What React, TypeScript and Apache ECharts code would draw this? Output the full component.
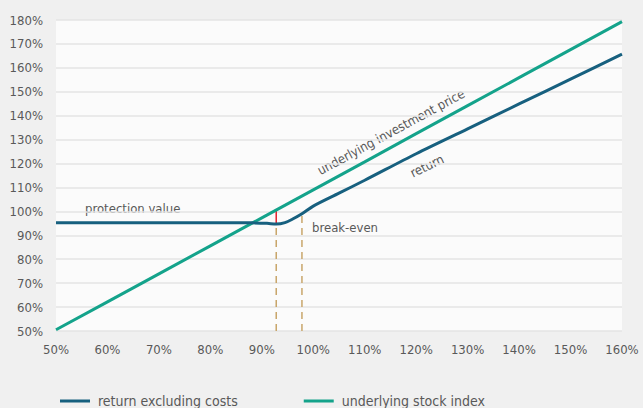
import React, { useEffect, useRef } from "react";
import * as echarts from "echarts";

// Horizontal axis: performance of the underlying, in %
const xTicks = [50, 60, 70, 80, 90, 100, 110, 120, 130, 140, 150, 160];

// Return excluding costs (protected product)
const returnX = [50, 60, 70, 80, 88, 91, 92.8, 94.5, 96, 97.8, 100, 105, 110, 120, 130, 140, 150, 160];
const returnY = [95.2, 95.3, 95.3, 95.3, 95.2, 95.0, 94.7, 95.3, 96.8, 99.0, 102.2, 107.6, 113.0, 124.1, 134.5, 144.9, 155.3, 165.7];

// Underlying stock index
const indexX = [50, 60, 70, 80, 90, 100, 110, 120, 130, 140, 150, 160];
const indexY = [50.5, 62.2, 73.9, 85.6, 97.3, 109.0, 120.7, 132.5, 144.2, 155.9, 167.6, 179.3];

// Markers: protection cost gap and break-even
const gapX = 92.8;
const gapFrom = 94.7;
const gapTo = 100.6;
const breakEvenX = 97.8;
const breakEvenY = 99.0;
const axisFloor = 50;

const FONT = "'DejaVu Sans Condensed', 'Liberation Sans Narrow', 'Arial Narrow', sans-serif";
const TEXT = "#595959";
const BLUE = "#17607f";
const GREEN = "#14a38b";
const TAN = "#c9a66b";
const RED = "#e3202c";

const zip = (xs: number[], ys: number[]) => xs.map((x, i) => [x, ys[i]]);

export default function App() {
  const ref = useRef<HTMLDivElement>(null);

  useEffect(() => {
    if (!ref.current) return;
    const chart = echarts.init(ref.current, undefined, { renderer: "svg" });
    const pct = (v: number) => `${v}%`;
    chart.setOption({
      animation: false,
      backgroundColor: "#f0f0f0",
      grid: {
        left: 56,
        right: 21,
        top: 20,
        bottom: 77,
        show: true,
        backgroundColor: "#fbfbfb",
        borderWidth: 0,
      },
      xAxis: {
        type: "value",
        min: xTicks[0],
        max: xTicks[xTicks.length - 1],
        interval: 10,
        axisLine: { show: false },
        axisTick: { show: false },
        splitLine: { show: false },
        axisLabel: { formatter: pct, color: TEXT, fontFamily: FONT, fontSize: 13, margin: 12 },
      },
      yAxis: {
        type: "value",
        min: 50,
        max: 180,
        interval: 10,
        axisLine: { show: false },
        axisTick: { show: false },
        splitLine: { lineStyle: { color: "#e4e4e4", width: 1.5 } },
        axisLabel: { formatter: pct, color: TEXT, fontFamily: FONT, fontSize: 13, margin: 13 },
      },
      legend: {
        data: ["return excluding costs", "underlying stock index"],
        left: 55,
        top: 389,
        icon: "rect",
        itemWidth: 30,
        itemHeight: 3,
        itemGap: 66,
        textStyle: { color: TEXT, fontFamily: FONT, fontSize: 14, padding: [0, 0, 0, 3] },
      },
      series: [
        {
          name: "break-even marker",
          type: "line",
          data: [[breakEvenX, axisFloor], [breakEvenX, breakEvenY]],
          showSymbol: false,
          lineStyle: { color: TAN, width: 1.5, type: [7, 5] },
          z: 1,
        },
        {
          name: "protection marker",
          type: "line",
          data: [[gapX, axisFloor], [gapX, gapFrom]],
          showSymbol: false,
          lineStyle: { color: TAN, width: 1.5, type: [7, 5] },
          z: 1,
        },
        {
          name: "protection gap",
          type: "line",
          data: [[gapX, gapFrom], [gapX, gapTo]],
          showSymbol: false,
          lineStyle: { color: RED, width: 1.5 },
          z: 1,
        },
        {
          name: "underlying stock index",
          type: "line",
          data: zip(indexX, indexY),
          showSymbol: false,
          color: GREEN,
          lineStyle: { color: GREEN, width: 3 },
          z: 3,
        },
        {
          name: "return excluding costs",
          type: "line",
          data: zip(returnX, returnY),
          smooth: 0.3,
          showSymbol: false,
          color: BLUE,
          lineStyle: { color: BLUE, width: 3 },
          z: 4,
        },
      ],
      graphic: [
        {
          type: "text",
          x: 85,
          y: 208,
          style: { text: "protection value", fill: TEXT, font: `13px ${FONT}`, textVerticalAlign: "middle" },
        },
        {
          type: "text",
          x: 312,
          y: 227,
          style: { text: "break-even", fill: TEXT, font: `13px ${FONT}`, textVerticalAlign: "middle" },
        },
        {
          type: "text",
          x: 391,
          y: 132,
          rotation: (28.5 * Math.PI) / 180,
          style: {
            text: "underlying investment price",
            fill: TEXT,
            font: `13px ${FONT}`,
            textAlign: "center",
            textVerticalAlign: "middle",
          },
        },
        {
          type: "text",
          x: 427,
          y: 166,
          rotation: (25.8 * Math.PI) / 180,
          style: {
            text: "return",
            fill: TEXT,
            font: `13px ${FONT}`,
            textAlign: "center",
            textVerticalAlign: "middle",
          },
        },
      ],
    });
    return () => chart.dispose();
  }, []);

  return <div ref={ref} style={{ width: 643, height: 408, position: "absolute", left: 0, top: 0 }} />;
}
